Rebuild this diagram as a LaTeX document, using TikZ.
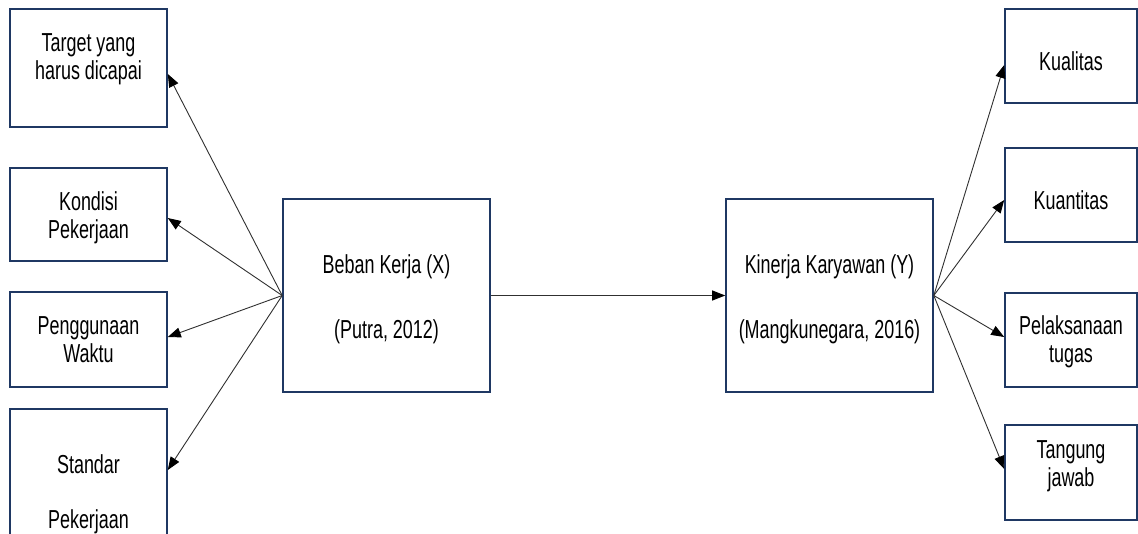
\documentclass[tikz,border=0pt]{standalone}
\usepackage{fontspec}
\setmainfont{Liberation Sans}[FakeStretch=0.69]
\usetikzlibrary{arrows.meta}
\definecolor{boxc}{HTML}{1F3863}
\definecolor{linec}{HTML}{303030}
\begin{document}
\begin{tikzpicture}[x=1pt,y=-1pt,
  box/.style={draw=boxc, line width=1.6pt, inner sep=0pt},
  txt/.style={align=center, font=\fontsize{26}{28}\selectfont, inner sep=0pt},
  arr/.style={draw=linec, line width=0.9pt, -{Triangle[length=13pt,width=10pt,color=black]}}]
\useasboundingbox (0,0) rectangle (1138,533);
% left boxes
\node[box, minimum width=157pt, minimum height=118pt] (k1) at (88.5,68) {};
\node[box, minimum width=157pt, minimum height=93pt] (k2) at (88.5,214.5) {};
\node[box, minimum width=157pt, minimum height=95pt] (k3) at (88.5,339.5) {};
\node[box, minimum width=157pt, minimum height=151pt] (k4) at (88.5,484.5) {};
% centre boxes
\node[box, minimum width=207pt, minimum height=193pt] (beban) at (386.5,295.5) {};
\node[box, minimum width=207pt, minimum height=193pt] (kinerja) at (829.5,295.5) {};
% right boxes
\node[box, minimum width=132pt, minimum height=94pt] (r1) at (1071,56) {};
\node[box, minimum width=132pt, minimum height=94pt] (r2) at (1071,195) {};
\node[box, minimum width=132pt, minimum height=94pt] (r3) at (1071,340) {};
\node[box, minimum width=132pt, minimum height=95pt] (r4) at (1071,472.5) {};
% texts
\node[txt] (t1) at (88.5,59) {Target yang\\harus dicapai};
\node[txt] (t2) at (88.5,218) {Kondisi\\Pekerjaan};
\node[txt] (t3) at (88.5,340) {Penggunaan\\Waktu};
\node[txt] (t4) at (88.5,494) {Standar\\[27pt]Pekerjaan};
\node[txt] (tb) at (386.5,299) {Beban Kerja (X)\\[37pt](Putra, 2012)};
\node[txt] (tk) at (829.5,299) {Kinerja Karyawan (Y)\\[37pt](Mangkunegara, 2016)};
\node[txt] (u1) at (1071,61) {Kualitas};
\node[txt] (u2) at (1071,200) {Kuantitas};
\node[txt] (u3) at (1071,342) {Pelaksanaan\\tugas};
\node[txt] (u4) at (1071,466) {Tangung\\jawab};
% arrow end points
\coordinate (a1) at (k1.east |- 0,74);
\coordinate (a2) at (k2.east |- 0,218);
\coordinate (a3) at (k3.east |- 0,337);
\coordinate (a4) at (k4.east |- 0,470);
\coordinate (b1) at (r1.west |- 0,65);
\coordinate (b2) at (r2.west |- 0,200);
\coordinate (b3) at (r3.west |- 0,337);
\coordinate (b4) at (r4.west |- 0,469);
% connectors
\draw[arr] (beban.west) -- (a1);
\draw[arr] (beban.west) -- (a2);
\draw[arr] (beban.west) -- (a3);
\draw[arr] (beban.west) -- (a4);
\draw[arr] (beban.east) -- (kinerja.west);
\draw[arr] (kinerja.east) -- (b1);
\draw[arr] (kinerja.east) -- (b2);
\draw[arr] (kinerja.east) -- (b3);
\draw[arr] (kinerja.east) -- (b4);
\end{tikzpicture}
\end{document}
